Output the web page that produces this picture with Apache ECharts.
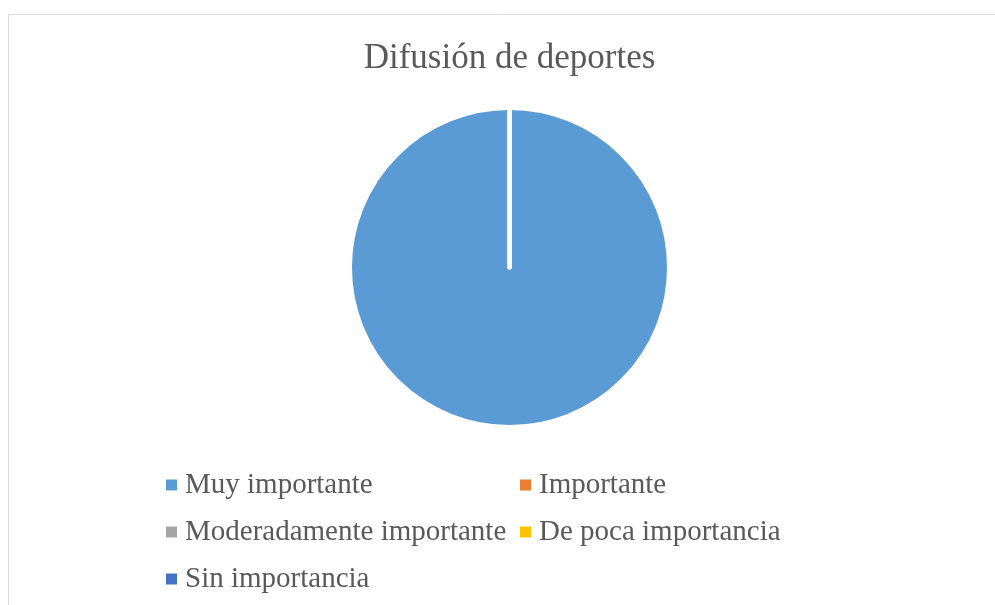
<!DOCTYPE html>
<html>
<head>
<meta charset="utf-8">
<script src="https://cdn.jsdelivr.net/npm/echarts@6/dist/echarts.min.js"></script>
<style>
	html, body { margin: 0; padding: 0; background: #fff; }
	#chart { width: 995px; height: 605px; }
</style>
</head>
<body>
<div id="chart"></div>
<script>
	// data
	var categories = ['Muy importante', 'Importante', 'Moderadamente importante', 'De poca importancia', 'Sin importancia'];
	var values = [100, 0, 0, 0, 0];
	var colors = ['#5b9bd5', '#ed7d31', '#a5a5a5', '#ffc000', '#4472c4'];

	var font = '"Liberation Serif", "Times New Roman", serif';
	var pieData = [];
	for (var i = 0; i < categories.length; i++) {
		pieData.push({ name: categories[i], value: values[i] });
	}

	var legendText = { fontFamily: font, fontSize: 29, color: '#595959', lineHeight: 32, padding: [0, 0, 0, 3] };

	var myChart = echarts.init(document.getElementById('chart'));
	var option = {
		animation: false,
		color: colors,
		title: {
			text: 'Difusión de deportes',
			left: 504.5,
			textAlign: 'center',
			top: 36,
			textStyle: {
				fontFamily: font,
				fontSize: 35,
				fontWeight: 'normal',
				color: '#595959'
			}
		},
		graphic: [{
			type: 'rect',
			shape: { x: 8.5, y: 14.5, width: 1100, height: 700 },
			style: { fill: 'none', stroke: '#d9d9d9', lineWidth: 1 },
			silent: true
		}],
		legend: [{
			orient: 'vertical',
			left: 166,
			top: 469,
			padding: 0,
			data: [categories[0], categories[2], categories[4]],
			icon: 'rect',
			itemWidth: 11,
			itemHeight: 11,
			itemGap: 15,
			itemStyle: { borderWidth: 0 },
			textStyle: legendText
		}, {
			orient: 'vertical',
			left: 520,
			top: 469,
			padding: 0,
			data: [categories[1], categories[3]],
			icon: 'rect',
			itemWidth: 11,
			itemHeight: 11,
			itemGap: 15,
			itemStyle: { borderWidth: 0 },
			textStyle: legendText
		}],
		series: [{
			type: 'pie',
			center: [509.5, 267.5],
			radius: 159.5,
			startAngle: 90,
			clockwise: true,
			label: { show: false },
			labelLine: { show: false },
			emphasis: { disabled: true },
			itemStyle: { borderColor: '#fff', borderWidth: 4 },
			data: pieData
		}]
	};
	myChart.setOption(option);
</script>
</body>
</html>
